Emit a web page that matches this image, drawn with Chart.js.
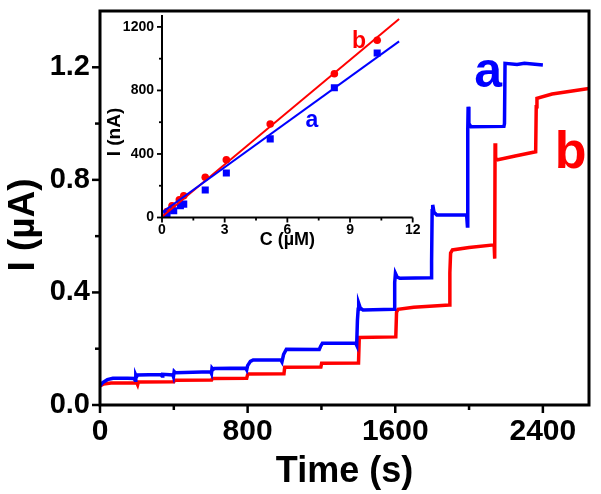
<!DOCTYPE html>
<html><head><meta charset="utf-8">
<script src="https://cdn.jsdelivr.net/npm/chart.js@4.4.1/dist/chart.umd.min.js"></script>
<style>
html,body{margin:0;padding:0;background:#fff;}
#wrap{position:relative;width:601px;height:494px;overflow:hidden;}
#main{position:absolute;left:0;top:0;}
#inset{position:absolute;left:100px;top:0;}
</style></head><body>
<div id="wrap"><canvas id="main" width="601" height="494"></canvas><canvas id="inset" width="335" height="260"></canvas></div>
<script>
// ---------- main plot data (time in s, current in µA) ----------
const timeA = [0,15,40,70,150,185,190,194,198,204,330,336,340,395,398,402,408,600,604,607,613,620,790,795,800,815,830,980,986,995,1010,1188,1195,1205,1386,1391,1395,1399,1402,1410,1425,1594,1597,1601,1610,1625,1794,1797,1800,1803,1810,1825,1987,1991,1993,1995,1999,2010,2189,2192,2195,2260,2300,2400];
const currentA = [0.068,0.080,0.090,0.095,0.095,0.094,0.088,0.106,0.100,0.107,0.108,0.103,0.109,0.107,0.101,0.119,0.115,0.118,0.112,0.131,0.126,0.130,0.131,0.125,0.140,0.155,0.160,0.160,0.153,0.180,0.198,0.197,0.208,0.219,0.219,0.212,0.300,0.340,0.361,0.345,0.338,0.340,0.435,0.468,0.455,0.450,0.452,0.510,0.690,0.711,0.685,0.675,0.675,0.636,0.980,1.060,1.000,0.989,0.990,1.000,1.214,1.210,1.214,1.208];
const timeB = [0,20,60,200,204,208,400,404,605,609,795,800,806,997,1001,1197,1201,1401,1405,1603,1607,1615,1700,1893,1896,1900,1910,2000,2136,2139,2141,2144,2150,2250,2361,2364,2368,2450,2550,2650];
const currentB = [0.068,0.075,0.078,0.078,0.072,0.082,0.083,0.088,0.089,0.094,0.095,0.108,0.110,0.111,0.134,0.135,0.148,0.149,0.240,0.242,0.330,0.340,0.347,0.355,0.470,0.540,0.551,0.560,0.569,0.520,0.930,0.880,0.871,0.885,0.900,1.060,1.090,1.105,1.115,1.125];
const xTicksMain = [0,800,1600,2400];
const xMinorMain = [400,1200,2000];
const yTicksMain = [0,0.4,0.8,1.2];
const yMinorMain = [0.2,0.6,1.0];

// ---------- inset data (C in µM, I in nA) ----------
const concA = [0.24,0.56,0.88,1.04,2.07,3.08,5.18,8.25,10.3];
const insetA = [21,42,74,84,173,280,495,817,1036];
const concB = [0.24,0.48,0.83,1.04,2.07,3.08,5.18,8.25,10.3];
const insetB = [38,74,112,137,253,364,589,905,1116];
const fitC = [0,11.35];
const fitA = [32,1109];
const fitB = [5,1250];
const xTicksInset = [0,3,6,9,12];
const xMinorInset = [1.5,4.5,7.5,10.5];
const yTicksInset = [0,400,800,1200];
const yMinorInset = [200,600,1000];

const FAM = '"Liberation Sans", Arial, Helvetica, sans-serif';
const BLUE = '#0000ff', RED = '#ff0000';
const zip = (xs, ys) => xs.map((x, i) => ({x, y: ys[i]}));
const fitX = h => s => { s.height = h; s.paddingLeft = 0; s.paddingRight = 0; s.paddingTop = 0; s.paddingBottom = 0; };
const fitY = w => s => { s.width = w; s.paddingLeft = 0; s.paddingRight = 0; s.paddingTop = 0; s.paddingBottom = 0; };

function decor(cfg) {
  return {
    id: 'decor',
    afterDraw(chart) {
      const ctx = chart.ctx, a = chart.chartArea;
      const xs = chart.scales.x, ys = chart.scales.y;
      ctx.save();
      ctx.strokeStyle = '#000';
      ctx.lineWidth = cfg.lw;
      ctx.lineCap = 'butt';
      ctx.beginPath();
      if (cfg.box) {
        ctx.rect(a.left, a.top, a.right - a.left, a.bottom - a.top);
      } else {
        ctx.moveTo(a.left, a.top); ctx.lineTo(a.left, a.bottom); ctx.lineTo(a.right, a.bottom);
      }
      ctx.stroke();
      ctx.lineWidth = cfg.tw;
      const tick = (vals, len, horiz) => {
        vals.forEach(v => {
          ctx.beginPath();
          if (horiz) { const p = xs.getPixelForValue(v); ctx.moveTo(p, a.bottom); ctx.lineTo(p, a.bottom + len); }
          else { const p = ys.getPixelForValue(v); ctx.moveTo(a.left, p); ctx.lineTo(a.left - len, p); }
          ctx.stroke();
        });
      };
      tick(cfg.xMaj, cfg.maj, true); tick(cfg.xMin, cfg.min, true);
      tick(cfg.yMaj, cfg.maj, false); tick(cfg.yMin, cfg.min, false);
      const t = cfg.yTitle;
      ctx.save();
      ctx.translate(t.x, t.y); ctx.rotate(-Math.PI / 2);
      ctx.font = 'bold ' + t.size + 'px ' + FAM;
      ctx.fillStyle = '#000'; ctx.textAlign = 'center'; ctx.textBaseline = 'middle';
      ctx.fillText(t.text, 0, 0);
      ctx.restore();
      cfg.labels.forEach(l => {
        ctx.font = 'bold ' + l.size + 'px ' + FAM;
        ctx.fillStyle = l.color; ctx.textAlign = 'center'; ctx.textBaseline = 'alphabetic';
        ctx.fillText(l.text, xs.getPixelForValue(l.x), ys.getPixelForValue(l.y));
      });
      ctx.restore();
    }
  };
}

new Chart(document.getElementById('main'), {
  type: 'line',
  data: { datasets: [
    { label: 'a', data: zip(timeA, currentA), borderColor: BLUE, borderWidth: 3.5, pointRadius: 0, tension: 0, fill: false },
    { label: 'b', data: zip(timeB, currentB), borderColor: RED, borderWidth: 3.5, pointRadius: 0, tension: 0, fill: false }
  ]},
  options: {
    responsive: false, animation: false, devicePixelRatio: 1,
    layout: { padding: { left: 0, top: 11, right: 12, bottom: 0 } },
    plugins: { legend: { display: false }, tooltip: { enabled: false } },
    scales: {
      x: {
        type: 'linear', min: 0, max: 2650,
        afterBuildTicks: s => { s.ticks = xTicksMain.map(v => ({value: v})); },
        afterFit: fitX(89),
        grid: { display: false, drawTicks: false }, border: { display: false },
        ticks: { padding: 9, color: '#000', maxRotation: 0, autoSkip: false, font: { family: FAM, size: 30, weight: 'bold' }, callback: v => String(v) },
        title: { display: true, text: 'Time (s)', color: '#000', font: { family: FAM, size: 36, weight: 'bold' }, padding: { top: 0, bottom: 0 } }
      },
      y: {
        type: 'linear', min: 0, max: 1.4,
        afterBuildTicks: s => { s.ticks = yTicksMain.map(v => ({value: v})); },
        afterFit: fitY(100),
        grid: { display: false, drawTicks: false }, border: { display: false },
        ticks: { padding: 10, color: '#000', autoSkip: false, font: { family: FAM, size: 29, weight: 'bold' }, callback: v => v.toFixed(1) }
      }
    }
  },
  plugins: [decor({
    box: true, lw: 3, tw: 2.5, maj: 8, min: 5,
    xMaj: xTicksMain, xMin: xMinorMain, yMaj: yTicksMain, yMin: yMinorMain,
    yTitle: { text: 'I (µA)', x: 24, y: 225, size: 37 },
    labels: [
      { text: 'a', x: 2103, y: 1.13, color: BLUE, size: 50 },
      { text: 'b', x: 2550, y: 0.842, color: RED, size: 52 }
    ]
  })]
});

new Chart(document.getElementById('inset'), {
  type: 'scatter',
  data: { datasets: [
    { label: 'fit a', type: 'line', data: zip(fitC, fitA), borderColor: BLUE, borderWidth: 2, pointRadius: 0, tension: 0 },
    { label: 'fit b', type: 'line', data: zip(fitC, fitB), borderColor: RED, borderWidth: 2, pointRadius: 0, tension: 0 },
    { label: 'a', data: zip(concA, insetA), pointStyle: 'rect', pointRadius: 5, backgroundColor: BLUE, borderColor: BLUE, borderWidth: 0 },
    { label: 'b', data: zip(concB, insetB), pointStyle: 'circle', pointRadius: 3.8, backgroundColor: RED, borderColor: RED, borderWidth: 0 }
  ]},
  options: {
    responsive: false, animation: false, devicePixelRatio: 1,
    layout: { padding: { left: 0, top: 15, right: 22.3, bottom: 0 } },
    plugins: { legend: { display: false }, tooltip: { enabled: false } },
    scales: {
      x: {
        type: 'linear', min: 0, max: 12,
        afterBuildTicks: s => { s.ticks = xTicksInset.map(v => ({value: v})); },
        afterFit: fitX(42.5),
        grid: { display: false, drawTicks: false }, border: { display: false },
        ticks: { padding: 4, color: '#000', maxRotation: 0, autoSkip: false, font: { family: FAM, size: 14, weight: 'bold' }, callback: v => String(v) },
        title: { display: true, text: 'C (µM)', color: '#000', font: { family: FAM, size: 18, weight: 'bold' }, padding: { top: 0, bottom: 9 } }
      },
      y: {
        type: 'linear', min: 0, max: 1275,
        afterBuildTicks: s => { s.ticks = yTicksInset.map(v => ({value: v})); },
        afterFit: fitY(62),
        grid: { display: false, drawTicks: false }, border: { display: false },
        ticks: { padding: 8, color: '#000', autoSkip: false, font: { family: FAM, size: 14, weight: 'bold' }, callback: v => String(v) }
      }
    }
  },
  plugins: [decor({
    box: false, lw: 2, tw: 1.8, maj: 5, min: 3,
    xMaj: xTicksInset, xMin: xMinorInset, yMaj: yTicksInset, yMin: yMinorInset,
    yTitle: { text: 'I (nA)', x: 15, y: 132, size: 19 },
    labels: [
      { text: 'b', x: 9.43, y: 1066, color: RED, size: 23 },
      { text: 'a', x: 7.18, y: 572, color: BLUE, size: 23 }
    ]
  })]
});
</script>
</body></html>
